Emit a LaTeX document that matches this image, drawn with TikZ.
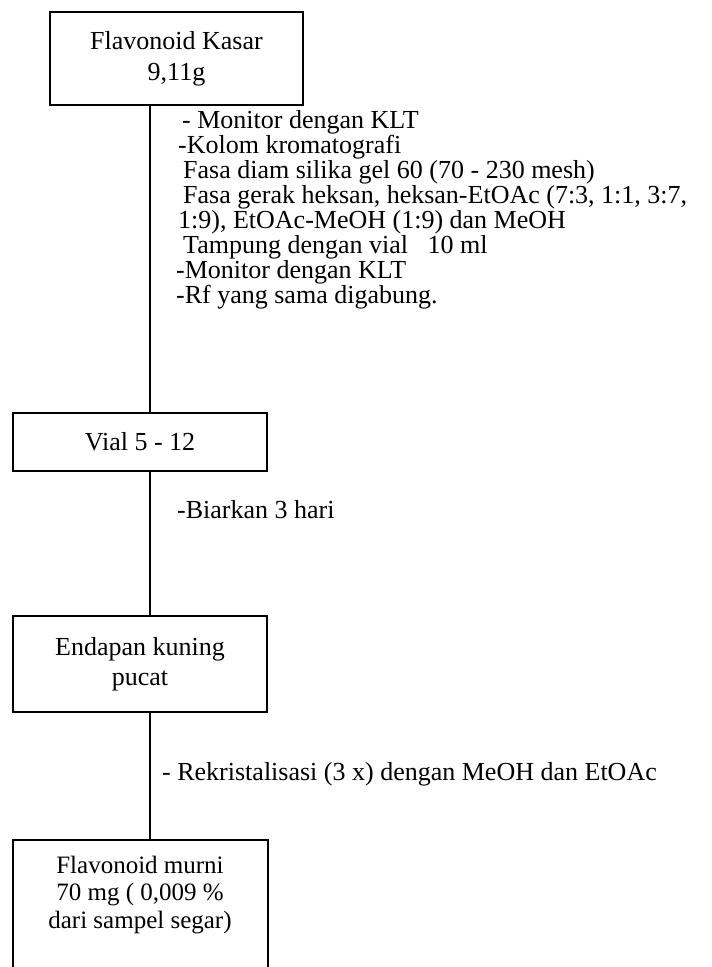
\documentclass[tikz,border=0pt]{standalone}
\usepackage{fontspec}
\setmainfont{Liberation Serif}
\begin{document}
\begin{tikzpicture}[x=1pt,y=-1pt,
  box/.style={draw, line width=1.6pt, inner sep=0pt, align=center},
  conn/.style={line width=1.2pt},
  note/.style={anchor=base west, inner sep=0pt, align=left, font=\fontsize{26}{25}\selectfont}]
\useasboundingbox[fill=white] (0,0) rectangle (712,967);
% boxes
\node[box, minimum width=253pt, minimum height=93pt, font=\fontsize{26}{31}\selectfont] (b1) at (176.5,58.5) {Flavonoid Kasar\\9,11g};
\node[box, minimum width=254pt, minimum height=58pt, font=\fontsize{26}{30}\selectfont] (b2) at (140,442) {Vial 5 - 12};
\node[box, minimum width=254pt, minimum height=96pt, font=\fontsize{26}{30}\selectfont] (b3) at (140,664) {Endapan kuning\\pucat};
\node[box, minimum width=255pt, minimum height=160pt] (b4) at (140.5,920) {};
\node[anchor=base, inner sep=0pt, align=center, font=\fontsize{25}{27.5}\selectfont] (t4) at (140,928) {Flavonoid murni\\70 mg ( 0,009 \%\\dari sampel segar)};
% connector axis
\coordinate (ax) at (150,0);
\draw[conn] (b1.south -| ax) -- (b2.north -| ax);
\draw[conn] (b2.south -| ax) -- (b3.north -| ax);
\draw[conn] (b3.south -| ax) -- (b4.north -| ax);
% notes
\node[note] (n1) at (176,303) {\hspace{6pt}- Monitor dengan KLT\\
\hspace{2pt}-Kolom kromatografi\\
\hspace{7pt}Fasa diam silika gel 60 (70 - 230 mesh)\\
\hspace{7pt}Fasa gerak heksan, heksan-EtOAc (7:3, 1:1, 3:7,\\
\hspace{2pt}1:9), EtOAc-MeOH (1:9) dan MeOH\\
\hspace{7pt}Tampung dengan vial\ \ \ 10 ml\\
-Monitor dengan KLT\\
-Rf yang sama digabung.};
\node[note] (n2) at (177,518) {-Biarkan 3 hari};
\node[note] (n3) at (162,780) {- Rekristalisasi (3 x) dengan MeOH dan EtOAc};
\end{tikzpicture}
\end{document}
